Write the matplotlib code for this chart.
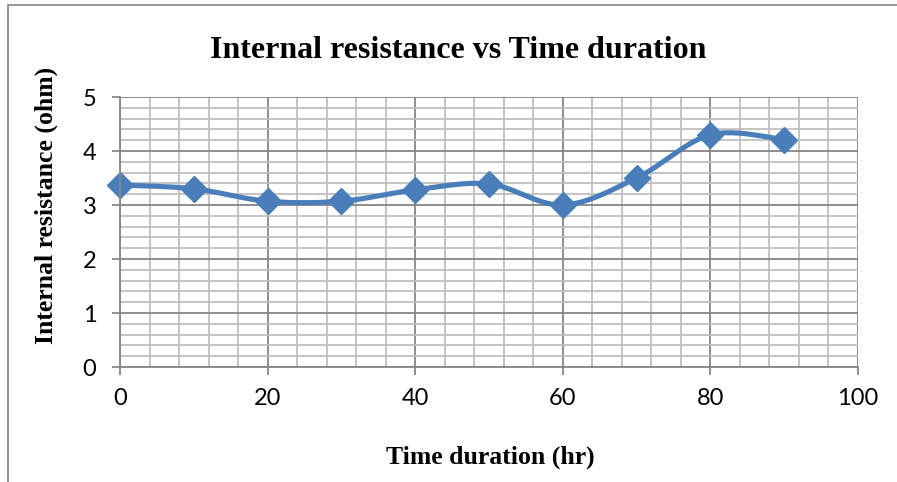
import numpy as np
import matplotlib
matplotlib.use("Agg")
import matplotlib.pyplot as plt
from matplotlib.patches import Rectangle

time_hr = [0, 10, 20, 30, 40, 50, 60, 70, 80, 90]
resistance = [3.37, 3.30, 3.07, 3.07, 3.28, 3.39, 3.00, 3.50, 4.30, 4.21]
x_ticks = [0, 20, 40, 60, 80, 100]
y_ticks = [0, 1, 2, 3, 4, 5]

def smooth(x, y, n=30):
    x = np.asarray(x, float); y = np.asarray(y, float)
    px = np.concatenate([[x[0]], x, [x[-1]]])
    py = np.concatenate([[y[0]], y, [y[-1]]])
    xs, ys = [], []
    t = np.linspace(0, 1, n)
    for i in range(1, len(px) - 2):
        p0, p1, p2, p3 = [np.array([px[j], py[j]]) for j in (i - 1, i, i + 1, i + 2)]
        c1 = p1 + (p2 - p0) / 6
        c2 = p2 - (p3 - p1) / 6
        pts = ((1 - t)[:, None] ** 3 * p1 + 3 * ((1 - t) ** 2 * t)[:, None] * c1
               + 3 * ((1 - t) * t ** 2)[:, None] * c2 + (t ** 3)[:, None] * p2)
        xs.extend(pts[:, 0]); ys.extend(pts[:, 1])
    return xs, ys

fig = plt.figure(figsize=(8.97, 4.82), dpi=100)
ax = fig.add_axes([120/897, 1-367/482, (858-120)/897, (367-97)/482])

ax.set_xlim(0, 100)
ax.set_ylim(0, 5)
ax.set_xticks(x_ticks)
ax.set_yticks(y_ticks)
ax.set_xticks(np.arange(0, 101, 4), minor=True)
ax.set_yticks(np.arange(0, 5.01, 0.2), minor=True)
ax.grid(which='minor', color='#BFBFBF', linewidth=1.3)
ax.grid(which='major', color='#868686', linewidth=1.3)
ax.set_axisbelow(True)
ax.tick_params(which='minor', length=0)
ax.tick_params(which='major', length=6, width=1.3, color='#868686', direction='out',
               labelsize=17)
ax.tick_params(axis='x', pad=9)
ax.tick_params(axis='y', pad=11)
for lab in ax.get_xticklabels() + ax.get_yticklabels():
    lab.set_fontfamily('Lato')
for s in ['top', 'right']:
    ax.spines[s].set_visible(False)
for s in ['left', 'bottom']:
    ax.spines[s].set_color('#868686')
    ax.spines[s].set_linewidth(1.3)

sx, sy = smooth(time_hr, resistance)
ax.plot(sx, sy, color='#4A7EBB', linewidth=3.7, solid_capstyle='round', clip_on=False)
ax.plot(time_hr, resistance, linestyle='none', marker='D', markersize=13.5,
        color='#4A7EBB', clip_on=False)

fig.text(458/897, 1-50/482, 'Internal resistance vs Time duration', ha='center', va='center',
         fontfamily='Liberation Serif', fontweight='bold', fontsize=23)
fig.text(490/897, 1-457/482, 'Time duration (hr)', ha='center', va='center',
         fontfamily='Liberation Serif', fontweight='bold', fontsize=18.5)
fig.text(46/897, 1-205/482, 'Internal resistance (ohm)', ha='center', va='center', rotation=90,
         fontfamily='Liberation Serif', fontweight='bold', fontsize=18.5)

fig.patches.append(Rectangle((8/897, -0.1), 1.2, 1 - 5/482 + 0.1, transform=fig.transFigure,
                             fill=False, edgecolor='#868686', linewidth=1.2))

fig.savefig('out.png', dpi=100)
